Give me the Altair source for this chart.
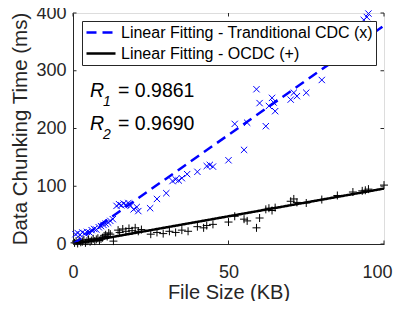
import altair as alt
import pandas as pd

# ---- data ----
tcdc_x = [0.8, 1.5, 2.3, 3.0, 3.8, 4.5, 5.3, 6.0, 6.8, 7.5, 8.3, 9.0, 9.8, 10.5, 11.3, 12.0, 12.8,
          14.0, 14.8, 15.5, 16.3, 17.0, 17.8, 18.5, 19.5, 20.5, 21.0, 24.8, 27.0, 30.0,
          32.0, 33.0, 34.0, 35.0, 36.7, 40.0, 43.0, 44.0, 45.0, 50.0, 52.0, 55.0, 56.0,
          59.0, 60.0, 62.0, 63.0, 64.0, 64.5, 65.0, 70.0, 71.0, 72.0, 75.0, 80.0, 93.5, 94.5, 95.0]
tcdc_y = [17, 19, 16, 20, 18, 21, 20, 24, 26, 25, 29, 31, 33, 35, 37, 40, 43,
          66, 69, 67, 70, 68, 71, 66, 60, 64, 57, 62, 78, 88,
          109, 112, 110, 114, 121, 125, 135, 137, 134, 145, 208, 163, 210,
          268, 244, 204, 239, 253, 245, 230, 250, 262, 256, 262, 284, 388, 393, 399]

ocdc_x = [0.5, 1.0, 1.5, 2.0, 2.5, 3.0, 3.5, 4.0, 4.5, 5.0, 5.5, 6.0, 6.5, 7.0, 7.5, 8.0, 8.5, 9.0,
          9.5, 10.0, 10.5, 11.0, 11.5, 12.0, 13.0, 14.5, 15.0, 16.0, 17.0, 18.0, 19.0, 20.0, 21.0,
          22.0, 25.0, 27.0, 29.0, 31.0, 33.0, 35.0, 37.0, 40.0, 42.0, 43.0, 45.0, 50.0, 52.0, 55.0,
          56.0, 59.0, 60.0, 62.0, 63.0, 64.0, 65.0, 70.0, 71.0, 72.0, 75.0, 80.0, 85.0, 90.0, 93.0,
          94.0, 95.0, 100.0]
ocdc_y = [2, 5, 1, 6, 3, 4, 7, 2, 5, 8, 4, 6, 9, 5, 8, 10, 6, 9,
          11, 14, 16, 13, 19, 17, 5, 24, 20, 26, 22, 27, 23, 28, 22,
          25, 17, 20, 18, 22, 20, 24, 22, 30, 28, 32, 34, 38, 48, 43,
          40, 28, 45, 60, 62, 58, 63, 74, 78, 72, 71, 77, 84, 90, 92,
          93, 95, 102]

fit_x = [0, 100]
tcdc_fit_y = [0, 378]
ocdc_fit_y = [0, 96]

series = ["Linear Fitting - Tranditional CDC (x)", "Linear Fitting - OCDC (+)"]
r_subs = ["1", "2"]
r_vals = ["0.9861", "0.9690"]

x_ticks = [0, 50, 100]
y_ticks = [0, 100, 200, 300, 400]

# ---- tables ----
pts_t = pd.DataFrame({"x": tcdc_x, "y": tcdc_y})
pts_o = pd.DataFrame({"x": ocdc_x, "y": ocdc_y})
fits = pd.DataFrame({
    "x": fit_x + fit_x,
    "y": tcdc_fit_y + ocdc_fit_y,
    "series": [series[0]] * len(fit_x) + [series[1]] * len(fit_x),
})
xt = pd.DataFrame({"v": x_ticks})
yt = pd.DataFrame({"v": y_ticks})

W, H = 311, 231
AX = "#262626"
FONT = "Liberation Sans"

xs = alt.Scale(domain=[0, 100], nice=False, zero=False)
ys = alt.Scale(domain=[0, 400], nice=False, zero=False)

last_x = "datum.value === %d" % x_ticks[-1]
X = alt.X("x:Q", scale=xs, axis=alt.Axis(values=x_ticks, title="File Size (KB)", grid=False,
                                         tickSize=0, labelPadding=19, titlePadding=1,
                                         labelFontSize=18, titleFontSize=20, labelColor=AX,
                                         titleColor=AX, domainColor=AX, labelFont=FONT,
                                         titleFont=FONT, titleFontWeight="normal",
                                         labelFlush=False, labelBound=False,
                                         labelAlign={"condition": {"test": last_x, "value": "right"},
                                                     "value": "center"},
                                         labelOffset={"condition": {"test": last_x, "value": 8},
                                                      "value": 0}))
Y = alt.Y("y:Q", scale=ys, axis=alt.Axis(values=y_ticks, title="Data Chunking Time (ms)", grid=False,
                                         tickSize=0, labelPadding=7, titlePadding=5,
                                         labelFontSize=18, titleFontSize=20.5, labelColor=AX,
                                         titleColor=AX, domainColor=AX, labelFont=FONT,
                                         titleFont=FONT, titleFontWeight="normal",
                                         labelFlush=False))

XPATH = "M-1,-1L1,1M-1,1L1,-1"
PPATH = "M-1,0L1,0M0,-1L0,1"

p_t = alt.Chart(pts_t).mark_point(shape=XPATH, filled=False, size=40, strokeWidth=1,
                                  color="#0000FF", opacity=1).encode(x=X, y=Y)
p_o = alt.Chart(pts_o).mark_point(shape=PPATH, filled=False, size=64, strokeWidth=1,
                                  color="#000000", opacity=1).encode(x=X, y=Y)

leg = alt.Legend(title=None, orient="none", legendX=9, legendY=8, fillColor="white",
                 strokeColor=AX, padding=3, symbolType="stroke", symbolSize=841,
                 symbolStrokeWidth=2.5, labelFontSize=16, labelFont=FONT, labelColor="black",
                 labelOffset=4, clipHeight=17, rowPadding=4, labelLimit=400, cornerRadius=0)

lines = alt.Chart(fits).mark_line(strokeWidth=2.5, clip=True).encode(
    x=alt.X("x:Q", scale=xs),
    y=alt.Y("y:Q", scale=ys),
    color=alt.Color("series:N", scale=alt.Scale(domain=series, range=["#0000FF", "#000000"]),
                    legend=leg),
    strokeDash=alt.StrokeDash("series:N", scale=alt.Scale(domain=series, range=[[10, 6], [1, 0]]),
                              legend=leg),
)

# inward ticks (MATLAB style) on all four sides
tx_b = alt.Chart(xt).mark_rule(color=AX, strokeWidth=1).encode(
    x=alt.X("v:Q", scale=xs), y=alt.value(H), y2=alt.value(H - 3.5))
tx_t = alt.Chart(xt).mark_rule(color=AX, strokeWidth=1).encode(
    x=alt.X("v:Q", scale=xs), y=alt.value(0), y2=alt.value(3.5))
ty_l = alt.Chart(yt).mark_rule(color=AX, strokeWidth=1).encode(
    y=alt.Y("v:Q", scale=ys), x=alt.value(0), x2=alt.value(3.5))
ty_r = alt.Chart(yt).mark_rule(color=AX, strokeWidth=1).encode(
    y=alt.Y("v:Q", scale=ys), x=alt.value(W), x2=alt.value(W - 3.5))

def txt(s, x, y, size, italic=False):
    return alt.Chart(pd.DataFrame({"t": [s]})).mark_text(
        align="left", baseline="alphabetic", font=FONT, fontSize=size, color="black",
        fontStyle="italic" if italic else "normal").encode(
        text="t:N", x=alt.value(x), y=alt.value(y))

anno = []
for i, (sub, val) in enumerate(zip(r_subs, r_vals)):
    by = 84 + i * 33
    anno += [txt("R", 17, by, 19.5, True), txt(sub, 30, by + 9, 14, True),
             txt("= " + val, 45, by, 19.5)]

chart = alt.layer(p_t, p_o, lines, tx_b, tx_t, ty_l, ty_r, *anno).properties(
    width=W, height=H,
    padding={"left": 65, "top": 5, "right": 9, "bottom": 57},
    autosize=alt.AutoSizeParams(type="none"),
).configure_view(stroke=AX, strokeWidth=1).configure(background="white")

chart.save("out.html", embed_options={"renderer": "svg", "actions": False})
